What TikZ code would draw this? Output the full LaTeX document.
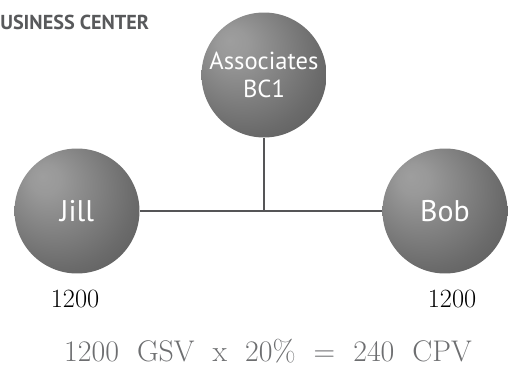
\documentclass[tikz,border=0pt]{standalone}
\usepackage{fontspec}
\newfontfamily\labelfont{PT Sans}
\usepackage{tikz}
\usetikzlibrary{positioning,calc}
\definecolor{linegray}{HTML}{555557}
\definecolor{titlegray}{HTML}{58595B}
\definecolor{formulagray}{HTML}{6D6E70}
\pgfdeclareradialshading{sphere}{\pgfpoint{-14bp}{14bp}}{%
  color(0bp)=(black!38);
  color(6bp)=(black!40);
  color(30bp)=(black!58);
  color(50bp)=(black!70);
  color(64bp)=(black!78)}

\begin{document}
\begin{tikzpicture}[x=0.02cm, y=-0.02cm,
    ball/.style={circle, shading=sphere, minimum size=2.5cm, inner sep=0pt,
      text=white, align=center},
    link/.style={draw=linegray, line width=0.9pt},
    amount/.style={font=\fontsize{15}{17}\selectfont}
]
\useasboundingbox (0,0) rectangle (510,371);
\clip (0,0) rectangle (510,371);
\node[font=\labelfont\bfseries\fontsize{11.5}{13}\selectfont, text=titlegray, anchor=west, inner sep=0pt] (title) at (0,22) {\llap{B}USINESS CENTER};

\node[ball, font=\labelfont\fontsize{14}{16}\selectfont] (assoc) at (264,75) {Associates\\BC1};
\node[ball, font=\labelfont\fontsize{17}{19}\selectfont] (jill) at (77,211) {Jill};
\node[ball, font=\labelfont\fontsize{17}{19}\selectfont] (bob) at (445,211) {Bob};
\coordinate (join) at (assoc |- jill);

\draw[link] (jill) -- (bob);
\draw[link] (assoc) -- (join);

\node[amount] (jillval) at (75,299) {1200};
\node[amount] (bobval) at (452,299) {1200};
\node[text=formulagray, font=\fontsize{17}{20}\selectfont] (formula) at (268,351) {1200 \ GSV \ x \ 20\% \ = \ 240 \ CPV};
\end{tikzpicture}
\end{document}
